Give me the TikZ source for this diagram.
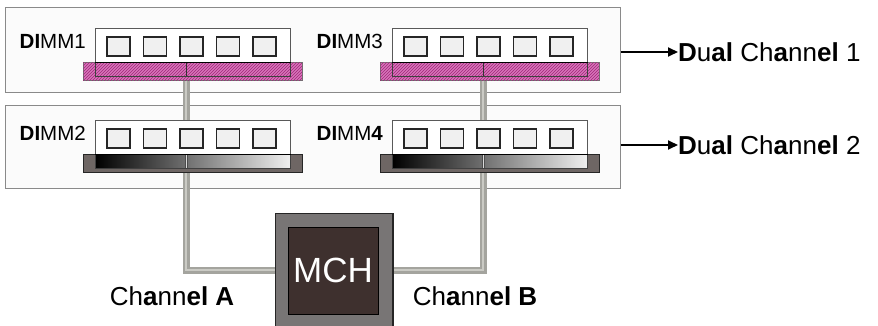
\documentclass[tikz,border=0pt]{standalone}
\usepackage{fontspec}
\setmainfont{Liberation Sans}
\usetikzlibrary{patterns,arrows.meta}
\definecolor{pinkfill}{HTML}{D874BA}
\definecolor{pinkhatch}{HTML}{A02878}
\definecolor{slotgray}{HTML}{6E6664}
\definecolor{mchouter}{HTML}{787575}
\definecolor{mchinner}{HTML}{3E302E}
\definecolor{boxline}{HTML}{8A8A8A}
\definecolor{chanline}{HTML}{A4A49E}
\definecolor{chanlight}{HTML}{CACAC4}
\newcommand\dimmunit[5]{%
  % #1 name, #2 left x, #3 top y, #4 slot kind (1 pink / 0 dark), #5 label
  \node[module, minimum width=195pt, minimum height=34pt, anchor=north west] (#1mod) at (#2,#3) {};
  \foreach \k in {0,...,4}{
    \node[chip] (#1chip\k) at ({#2+23.5+36.5*\k},{#3+18.5}) {};
  }
  \ifnum#4=1
    \node[pinkslot, minimum width=219pt, minimum height=18pt, anchor=north west] (#1slot) at ({#2-12},{#3+34}) {};
    \node[draw=none, fill=none, inner sep=0pt, pattern=north east lines, pattern color=pinkhatch, minimum width=219pt, minimum height=18pt, anchor=north west] (#1hatch) at ({#2-12},{#3+34}) {};
    \node[draw=black!75, line width=0.8pt, minimum width=195pt, minimum height=14pt, anchor=north west, inner sep=0pt] (#1edge) at (#2,{#3+34}) {};
    \draw[black!80, line width=0.8pt] ({#2+91},{#3+34}) -- ({#2+91},{#3+48});
  \else
    \node[darkslot, minimum width=219pt, minimum height=18pt, anchor=north west] (#1slot) at ({#2-12},{#3+34}) {};
    \node[draw=black!75, line width=0.6pt, left color=black, right color=gray!12, minimum width=195pt, minimum height=14pt, anchor=north west, inner sep=0pt] (#1edge) at (#2,{#3+34}) {};
    \draw[gray!30, line width=1.6pt] ({#2+91},{#3+34.5}) -- ({#2+91},{#3+47.5});
    \draw[black!70, line width=0.4pt] ({#2+89.8},{#3+34.5}) -- ({#2+89.8},{#3+47.5}) ({#2+92.2},{#3+34.5}) -- ({#2+92.2},{#3+47.5});
  \fi
  \draw[black, line width=1.2pt] (#1mod.south west) -- (#1mod.south east);
  \node[dimmlabel, anchor=east] (#1lab) at ({#2-9},{#3+13}) {#5};
}
\begin{document}
\begin{tikzpicture}[x=1pt,y=-1pt,
  panel/.style={draw=boxline, fill=gray!3, line width=0.9pt, inner sep=0pt},
  module/.style={draw=gray!70!black, fill=white, line width=0.6pt, inner sep=0pt},
  chip/.style={draw=black!85, fill=gray!12, line width=1.7pt, minimum width=23pt, minimum height=19pt, inner sep=0pt},
  pinkslot/.style={draw=black!55, fill=pinkfill, line width=0.6pt, inner sep=0pt},
  darkslot/.style={draw=black!85, fill=slotgray, line width=0.8pt, inner sep=0pt},
  dimmlabel/.style={inner sep=0pt, font=\fontsize{20.5}{23}\selectfont},
  biglabel/.style={inner sep=0pt, font=\fontsize{26}{30}\selectfont},
  chlabel/.style={inner sep=0pt, font=\fontsize{26}{30}\selectfont},
  chanouter/.style={draw=chanline, line width=7pt},
  chaninner/.style={draw=chanlight, line width=2.2pt},
  outarrow/.style={draw=black, line width=1.8pt, -{Triangle[length=10pt,width=9pt]}}
]
\useasboundingbox (0,0) rectangle (878,326);
\fill[white] (0,0) rectangle (878,326);

% panels
\node[panel, minimum width=615pt, minimum height=85pt, anchor=north west] (p1) at (5,7) {};
\node[panel, minimum width=615pt, minimum height=83pt, anchor=north west] (p2) at (5,105) {};

% MCH
\node[draw=black!85, fill=mchouter, line width=1pt, minimum width=117pt, minimum height=113pt, anchor=north west, inner sep=0pt] (mch) at (275,213) {};
\node[draw=black, fill=mchinner, line width=0.8pt, minimum width=90pt, minimum height=87pt, inner sep=0pt, text=white, font=\fontsize{35}{40}\selectfont] (mchin) at (333,270.5) {MCH};

% channel wires
\coordinate (wa) at (186,62);
\coordinate (wb) at (483,62);
\draw[chanouter] (wa) |- (mch.west |- 0,270);
\draw[chanouter] (wb) |- (mch.east |- 0,270);
\draw[chaninner] (wa) |- (mch.west |- 0,270);
\draw[chaninner] (wb) |- (mch.east |- 0,270);
\draw[black!85, line width=1pt] (mch.north west) rectangle (mch.south east);

% DIMMs
\dimmunit{d1}{95}{28}{1}{\textbf{DI}MM1}
\dimmunit{d3}{392}{28}{1}{\textbf{DI}MM3}
\dimmunit{d2}{95}{120}{0}{\textbf{DI}MM2}
\dimmunit{d4}{392}{120}{0}{\textbf{DI}MM\textbf{4}}

% labels
\node[biglabel, anchor=west] (dc1) at (678,52) {\textbf{D}u\textbf{al} Ch\textbf{a}nn\textbf{el} 1};
\node[biglabel, anchor=west] (dc2) at (678,145) {\textbf{D}u\textbf{al} Ch\textbf{a}nn\textbf{el} 2};
\draw[outarrow] (p1.east |- dc1.west) -- (dc1.west);
\draw[outarrow] (p2.east |- dc2.west) -- (dc2.west);

\node[chlabel] (cha) at (172,296) {Ch\textbf{a}nn\textbf{el A}};
\node[chlabel] (chb) at (475,296) {Ch\textbf{a}nn\textbf{el B}};
\end{tikzpicture}
\end{document}
